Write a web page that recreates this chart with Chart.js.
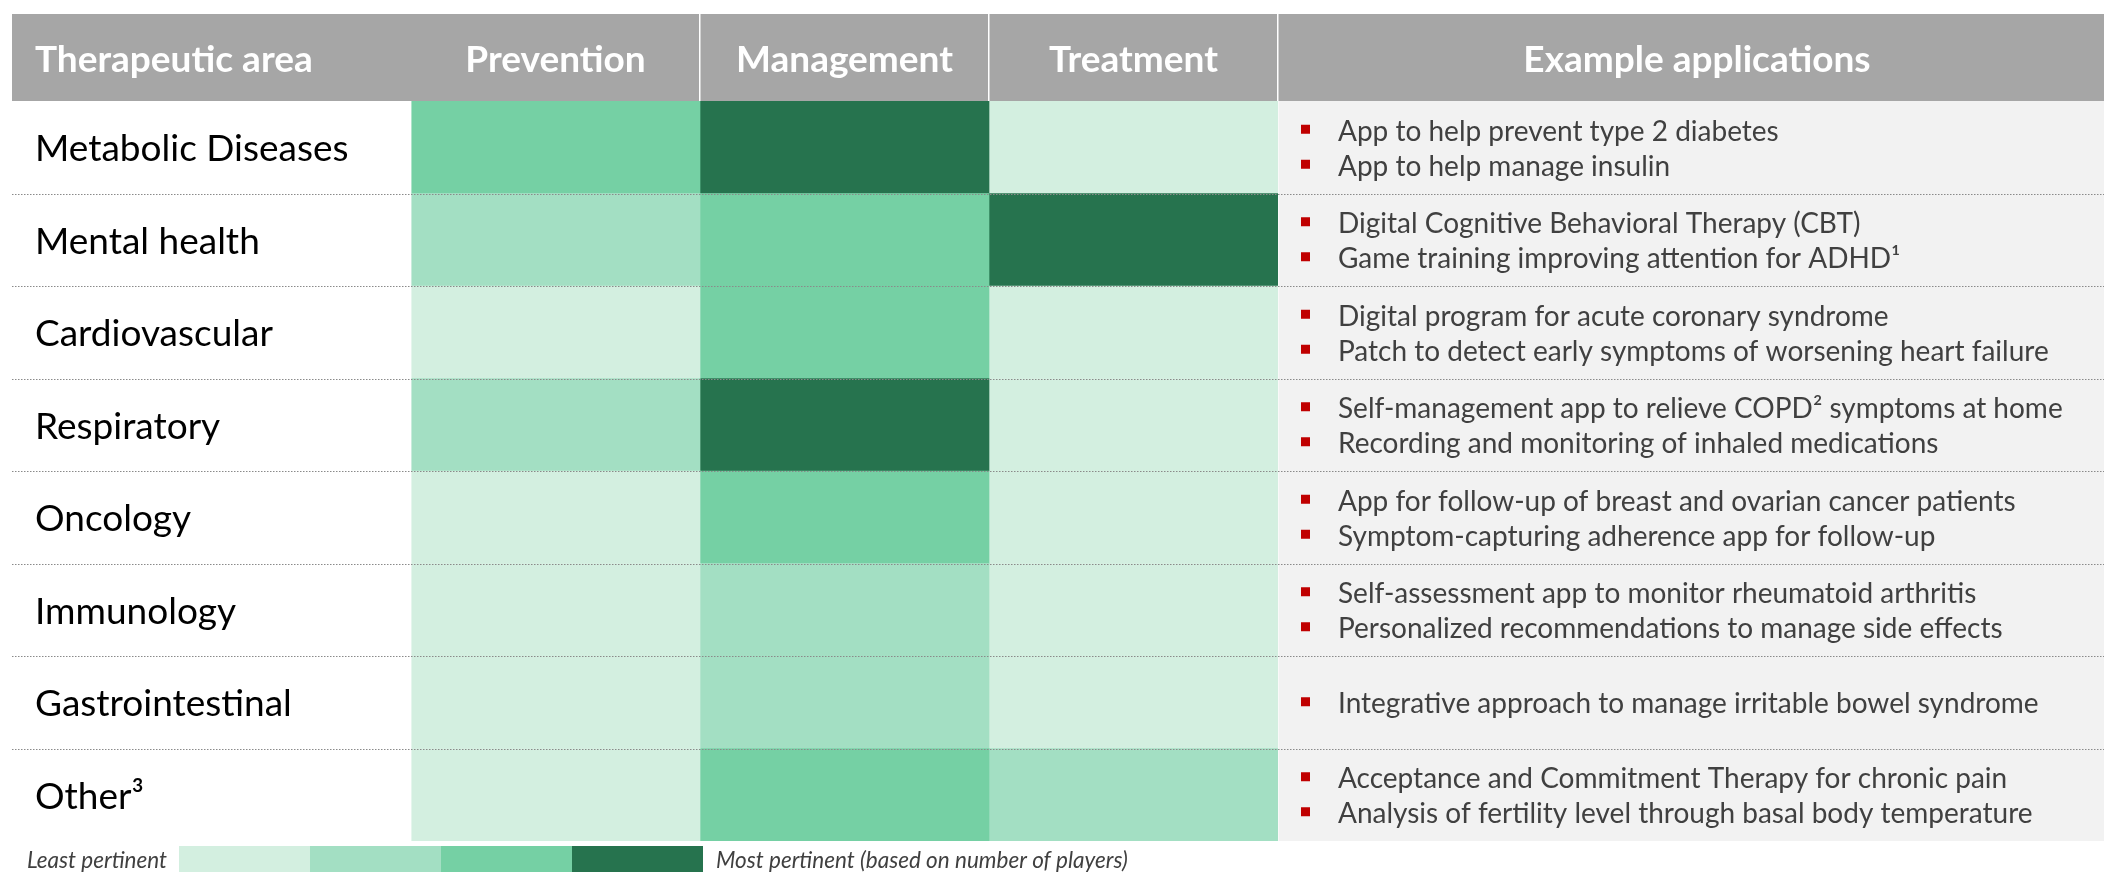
<!DOCTYPE html>
<html>
<head>
<meta charset="utf-8">
<script src="https://cdn.jsdelivr.net/npm/chart.js@4.4.1/dist/chart.umd.min.js"></script>
<style>
	html, body { margin: 0; padding: 0; background: #fff; }
	#wrap { width: 2104px; height: 872px; position: relative; }
</style>
</head>
<body>
<div id="wrap"><canvas id="pertinence-chart"></canvas></div>
<script>
var areas = ['Metabolic Diseases', 'Mental health', 'Cardiovascular', 'Respiratory', 'Oncology', 'Immunology', 'Gastrointestinal', 'Other³'];
var columns = ['Prevention', 'Management', 'Treatment'];

//Pertinence level per area: 0 = least, 3 = most
var prevention = [2, 1, 0, 1, 0, 0, 0, 0];
var management = [3, 2, 2, 3, 2, 1, 1, 2];
var treatment = [0, 3, 0, 0, 0, 0, 0, 1];

var examples = [
	['App to help prevent type 2 diabetes', 'App to help manage insulin'],
	['Digital Cognitive Behavioral Therapy (CBT)', 'Game training improving attention for ADHD¹'],
	['Digital program for acute coronary syndrome', 'Patch to detect early symptoms of worsening heart failure'],
	['Self-management app to relieve COPD² symptoms at home', 'Recording and monitoring of inhaled medications'],
	['App for follow-up of breast and ovarian cancer patients', 'Symptom-capturing adherence app for follow-up'],
	['Self-assessment app to monitor rheumatoid arthritis', 'Personalized recommendations to manage side effects'],
	['Integrative approach to manage irritable bowel syndrome'],
	['Acceptance and Commitment Therapy for chronic pain', 'Analysis of fertility level through basal body temperature']
];

var headerTitles = ['Therapeutic area', 'Example applications'];
var legendLabels = ['Least pertinent', 'Most pertinent (based on number of players)'];

var levelColors = ['#d3efe0', '#a3dfc3', '#75d0a4', '#26734e'];

var tableLeft = 12,
	labelLeft = 35,
	headerTop = 14,
	headerHeight = 87,
	gridLeft = 411,
	examplesWidth = 826,
	bottomSpace = 31,
	fontFamily = 'Lato, "Open Sans", sans-serif';

var levels = [prevention, management, treatment];

var datasets = columns.map(function(column, c) {
	return {
		label: column,
		data: areas.map(function(area, i) {
			return {y: area, x: [c, c + 1], level: levels[c][i]};
		}),
		backgroundColor: levels[c].map(function(level) { return levelColors[level]; }),
		borderWidth: 0,
		barPercentage: 1,
		categoryPercentage: 1,
		grouped: false
	};
});

var tableDecor = {
	id: 'tableDecor',
	beforeDraw: function(chart) {
		var ctx = chart.ctx,
			area = chart.chartArea;

		ctx.save();
		ctx.fillStyle = '#a6a6a6';
		ctx.fillRect(tableLeft, headerTop, chart.width - tableLeft, area.top - headerTop);
		ctx.fillStyle = '#f2f2f2';
		ctx.fillRect(area.right, area.top, chart.width - area.right, area.bottom - area.top);
		ctx.restore();
	},
	afterDraw: function(chart) {
		var ctx = chart.ctx,
			area = chart.chartArea,
			y = chart.scales.y,
			half = (y.getPixelForValue(1) - y.getPixelForValue(0)) / 2,
			headerMid = (headerTop + area.top) / 2 + 3;

		ctx.save();

		//Header titles outside the grid columns
		ctx.fillStyle = '#ffffff';
		ctx.font = 'bold 37px ' + fontFamily;
		ctx.textBaseline = 'middle';
		ctx.textAlign = 'left';
		ctx.fillText(headerTitles[0], labelLeft, headerMid);
		ctx.textAlign = 'center';
		ctx.fillText(headerTitles[1], (area.right + chart.width) / 2 + 6, headerMid);

		//Example applications
		ctx.font = '28px ' + fontFamily;
		ctx.textAlign = 'left';
		examples.forEach(function(lines, i) {
			var center = y.getPixelForValue(i) + 2,
				gap = 35;

			lines.forEach(function(line, j) {
				var ly = center + (j - (lines.length - 1) / 2) * gap;
				ctx.fillStyle = '#c00000';
				ctx.fillRect(area.right + 23, ly - 7, 9, 9);
				ctx.fillStyle = '#404040';
				ctx.fillText(line, area.right + 60, ly);
			});
		});

		//Dotted row dividers
		ctx.strokeStyle = '#8a8a8a';
		ctx.lineWidth = 1;
		ctx.setLineDash([1.5, 1.5]);
		for (let i = 1; i < areas.length; i++) {
			let py = Math.round(y.getPixelForValue(i) - half) + 0.5;
			ctx.beginPath();
			ctx.moveTo(tableLeft, py);
			ctx.lineTo(chart.width, py);
			ctx.stroke();
		}
		ctx.setLineDash([]);

		//Colour scale legend
		var boxTop = area.bottom + 5,
			boxLeft = 179,
			boxWidth = 131;

		levelColors.forEach(function(color, k) {
			ctx.fillStyle = color;
			ctx.fillRect(boxLeft + k * boxWidth, boxTop, boxWidth, chart.height - boxTop);
		});

		ctx.fillStyle = '#404040';
		ctx.font = 'italic 22.5px ' + fontFamily;
		ctx.textBaseline = 'alphabetic';
		ctx.fillText(legendLabels[0], 27, 868);
		ctx.fillText(legendLabels[1], boxLeft + levelColors.length * boxWidth + 13, 868);

		ctx.restore();
	}
};

new Chart(document.getElementById('pertinence-chart'), {
	type: 'bar',
	data: {
		labels: areas,
		datasets: datasets
	},
	options: {
		indexAxis: 'y',
		responsive: true,
		maintainAspectRatio: false,
		animation: false,
		layout: {
			padding: {left: labelLeft, right: examplesWidth, top: headerTop, bottom: bottomSpace}
		},
		plugins: {
			legend: {display: false},
			tooltip: {enabled: false}
		},
		scales: {
			x: {
				type: 'linear',
				position: 'top',
				min: 0,
				max: columns.length,
				z: 1,
				afterBuildTicks: function(scale) {
					var ticks = [];
					for (let v = 0; v <= columns.length; v += 0.5) {
						ticks.push({value: v});
					}
					scale.ticks = ticks;
				},
				afterFit: function(scale) {
					scale.height = headerHeight;
				},
				ticks: {
					autoSkip: false,
					maxRotation: 0,
					color: '#ffffff',
					font: {family: fontFamily, size: 37, weight: 'bold'},
					padding: -68,
					callback: function(value) {
						return Number.isInteger(value) ? '' : columns[Math.floor(value)];
					}
				},
				grid: {
					lineWidth: 1.5,
					tickLength: headerHeight,
					color: function(ctx) {
						var v = ctx.tick ? ctx.tick.value : 0;
						return (Number.isInteger(v) && v > 0) ? '#ffffff' : 'rgba(0,0,0,0)';
					}
				},
				border: {display: false}
			},
			y: {
				type: 'category',
				grid: {display: false},
				border: {display: false},
				afterFit: function(scale) {
					scale.width = gridLeft - labelLeft;
				},
				ticks: {
					crossAlign: 'far',
					labelOffset: 2,
					color: '#000000',
					font: {family: fontFamily, size: 37}
				}
			}
		}
	},
	plugins: [tableDecor]
});
</script>
</body>
</html>
